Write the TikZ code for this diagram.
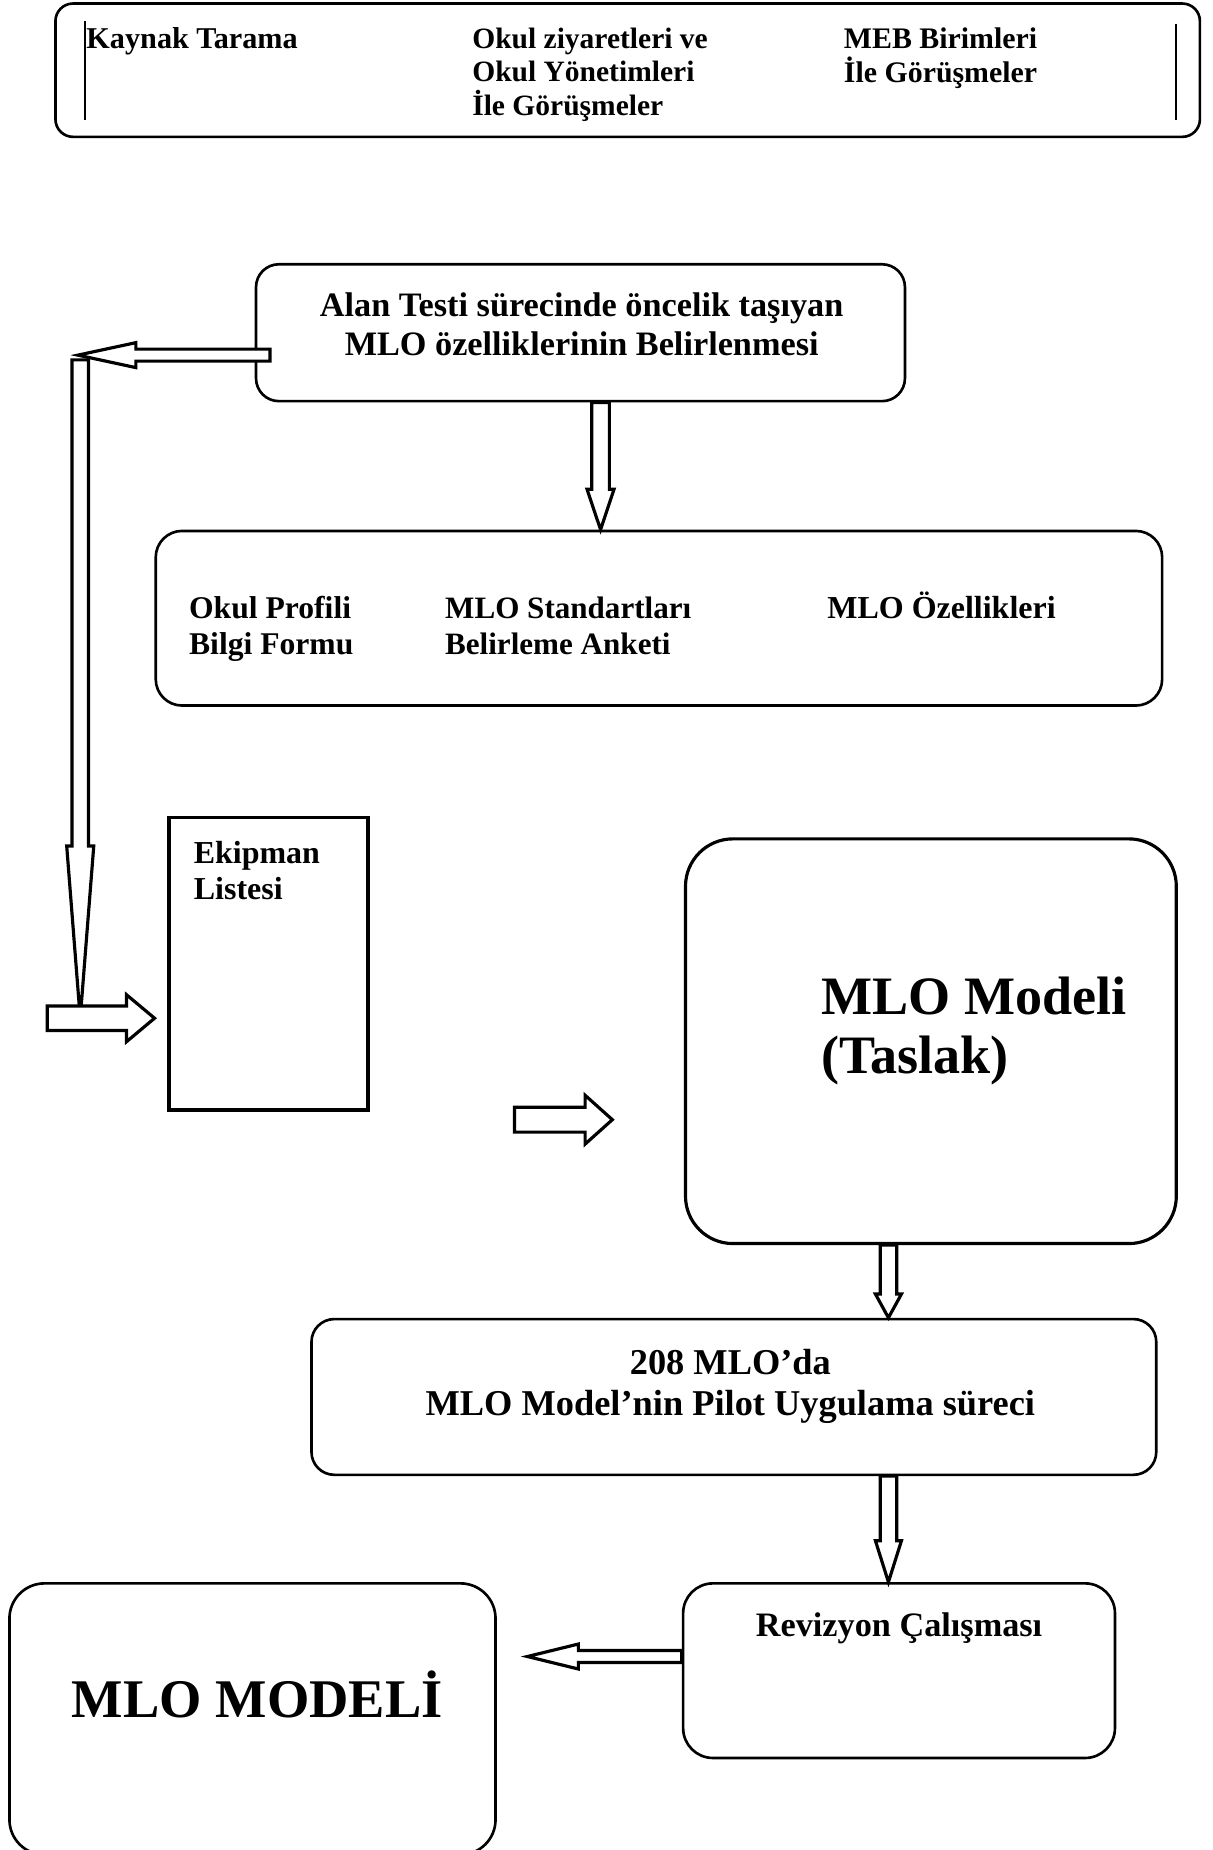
\documentclass[tikz,border=0pt]{standalone}
\usepackage{fontspec}
\setmainfont{Liberation Serif}
\usetikzlibrary{calc,fit}

\tikzset{
  roundbox/.style={draw=black, line width=1.5pt, inner sep=0pt},
  flatbox/.style={draw=black, line width=2.1pt, inner sep=0pt},
  label/.style={inner sep=0pt, font=\bfseries},
  arrowline/.style={draw=black, line width=1.8pt, fill=white, line join=miter}
}

% hollow block arrow: tail, tip, half shaft, half head, head length (pt)
\newcommand{\hollowarrow}[5]{%
  \path let \p1=(#1), \p2=(#2) in \pgfextra{%
    \pgfmathsetmacro\arrlen{veclen(\x2-\x1,\y2-\y1)}%
    \pgfmathsetmacro\arrang{atan2(\y2-\y1,\x2-\x1)}%
    \xdef\arrlen{\arrlen}\xdef\arrang{\arrang}};
  \draw[arrowline, shift={(#1)}, rotate=\arrang, x=1pt, y=1pt]
    (0,#3) -- ({\arrlen-#5},#3) -- ({\arrlen-#5},#4) -- (\arrlen,0)
    -- ({\arrlen-#5},-#4) -- ({\arrlen-#5},-#3) -- (0,-#3) -- cycle;
}

\begin{document}
\begin{tikzpicture}[x=0.0236cm, y=-0.0236cm]
\useasboundingbox (0,0) rectangle (1028,1568);

% sources
\node[roundbox, rounded corners=10pt, fit={(47,3) (1017,116)}] (sources) {};
\draw[line width=1.2pt] (72,18) -- (72,102);
\draw[line width=1.2pt] (997,20) -- (997,102);
\node[label, anchor=base west, align=left, font=\bfseries\fontsize{17.2}{19.2}\selectfont] (kaynak) at (73,41) {Kaynak Tarama};
\node[label, anchor=base west, align=left, font=\bfseries\fontsize{16.8}{19.2}\selectfont] (okul) at (400,98) {Okul ziyaretleri ve\\Okul Yönetimleri\\İle Görüşmeler};
\node[label, anchor=base west, align=left, font=\bfseries\fontsize{17}{19.2}\selectfont] (meb) at (715,70) {MEB Birimleri\\İle Görüşmeler};

% alan testi
\node[roundbox, rounded corners=13pt, fit={(217,224) (767,340)}] (alan) {};
\node[label, anchor=base, align=center, font=\bfseries\fontsize{19.5}{22.2}\selectfont] (alantext) at (493,301) {Alan Testi sürecinde öncelik taşıyan\\MLO özelliklerinin Belirlenmesi};

% tools
\node[roundbox, rounded corners=15pt, fit={(132,450) (985,598)}] (tools) {};
\node[label, anchor=base west, align=left, font=\bfseries\fontsize{18}{20.8}\selectfont] (profil) at (160,555) {Okul Profili\\Bilgi Formu};
\node[label, anchor=base west, align=left, font=\bfseries\fontsize{17.7}{20.8}\selectfont] (anket) at (377,555) {MLO Standartları\\Belirleme Anketi};
\node[label, anchor=base west, font=\bfseries\fontsize{18.2}{20.8}\selectfont] (ozellik) at (701,524) {MLO Özellikleri};

% ekipman
\node[flatbox, fit={(143,693) (312,941)}] (ekipman) {};
\node[label, anchor=base west, align=left, font=\bfseries\fontsize{18.2}{20.4}\selectfont] (ekiptext) at (164,762) {Ekipman\\Listesi};

% taslak
\node[roundbox, line width=1.8pt, rounded corners=27pt, fit={(581,711) (997,1054)}] (taslak) {};
\node[label, anchor=base west, align=left, font=\bfseries\fontsize{30.8}{33.6}\selectfont] (taslaktext) at (696,910) {MLO Modeli\\(Taslak)};

% pilot
\node[roundbox, rounded corners=13pt, fit={(264,1118) (980,1250)}] (pilot) {};
\node[label, anchor=base, align=center, font=\bfseries\fontsize{20.7}{23.5}\selectfont] (pilottext) at (619,1200) {208 MLO’da\\MLO Model’nin Pilot Uygulama süreci};

% revizyon
\node[roundbox, rounded corners=17pt, fit={(579,1342) (945,1490)}] (revizyon) {};
\node[label, anchor=base, font=\bfseries\fontsize{19.5}{22}\selectfont] (revtext) at (762,1387) {Revizyon Çalışması};

% final model
\node[roundbox, rounded corners=20pt, fit={(8,1342) (420,1572)}] (model) {};
\node[label, anchor=base, font=\bfseries\fontsize{31}{35}\selectfont] (modeltext) at (218,1456) {MLO MODELİ};

% arrows
\coordinate (backtail) at ($(alan.west)+(13,19)$);
\coordinate (backtip) at (66,301);
\coordinate (downtop) at (68,305);
\coordinate (sidetail) at (40,863);
\coordinate (sidetip) at (131,863);
\coordinate (steptail) at (436,949);
\coordinate (steptip) at (519,949);
\hollowarrow{backtail}{backtip}{3.4}{7.1}{33}
\hollowarrow{downtop}{sidetail -| downtop}{4.7}{7.7}{98}
\hollowarrow{sidetail}{sidetip}{7}{13.4}{16}
\hollowarrow{steptail}{steptip}{7.1}{13.9}{15.5}
\hollowarrow{alan.south -| 509,0}{tools.north -| 509,0}{5}{7.7}{23}
\hollowarrow{taslak.south -| 753,0}{pilot.north -| 753,0}{4.7}{7.4}{13.5}
\hollowarrow{pilot.south -| 753,0}{revizyon.north -| 753,0}{4.7}{7.4}{23.5}
\hollowarrow{revizyon.west |- 0,1404}{447,1404}{3.4}{7.1}{29}
\end{tikzpicture}
\end{document}
